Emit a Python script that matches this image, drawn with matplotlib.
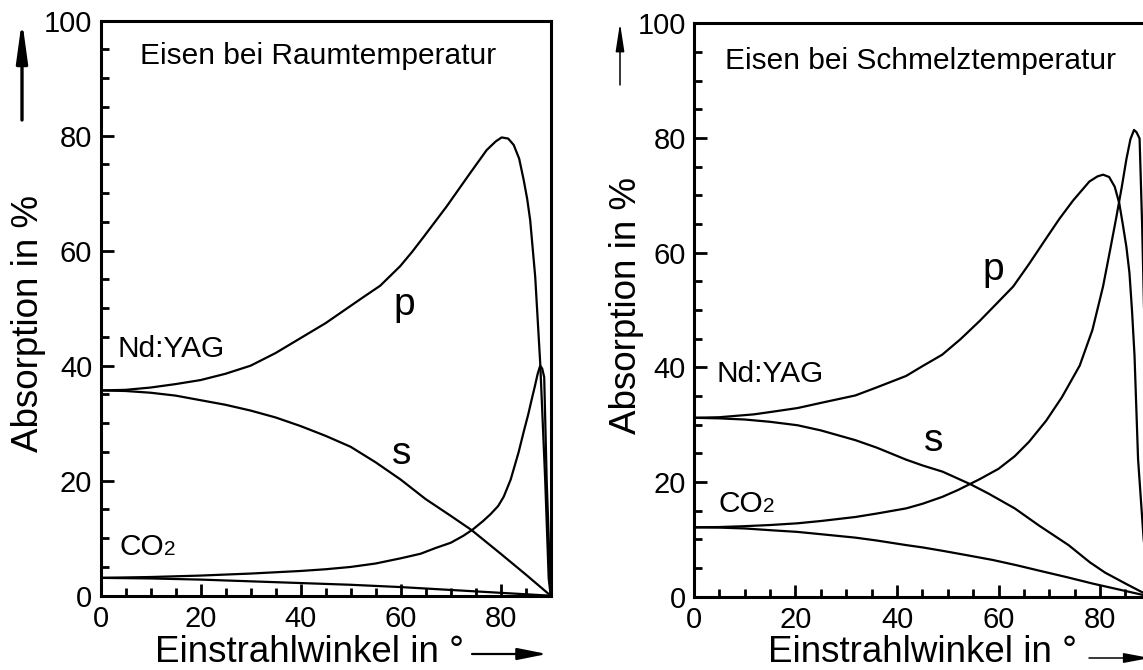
import matplotlib
matplotlib.use('Agg')
import matplotlib.pyplot as plt
from matplotlib.ticker import MultipleLocator

plt.rcParams['font.family'] = ['Liberation Sans', 'DejaVu Sans']

# Eisen bei Raumtemperatur (links)
rt_yag_p_x = [0, 5, 10, 15, 20, 25, 30, 35, 40, 45, 50, 52.5, 55.9, 59.9, 62.3, 64.6, 69.2, 73.9, 77.2,
              79, 80.2, 81.5, 82.6, 83.7, 84.6, 85.3, 85.9, 86.9, 87.9, 88.9, 89.6, 90]
rt_yag_p_y = [35.7, 35.8, 36.2, 36.8, 37.5, 38.6, 40.0, 42.2, 44.8, 47.4, 50.4, 51.9, 53.9, 57.3,
              59.8, 62.4, 67.7, 73.5, 77.5, 79.0, 79.7, 79.5, 78.4, 76.0, 72.3, 69.0, 65.3, 55.5,
              40.5, 20.1, 3.0, 0]
rt_yag_s_x = [0, 5, 10, 15, 20, 25, 30, 35, 40, 45, 50, 55, 60, 65, 70, 74.2, 80, 85, 90]
rt_yag_s_y = [35.7, 35.6, 35.3, 34.8, 34.0, 33.2, 32.2, 31.0, 29.5, 27.8, 25.9, 23.2, 20.2, 16.8,
              13.9, 11.4, 7.3, 3.7, 0]
rt_co2_p_x = [0, 10, 20, 30, 40, 45, 50, 55, 60, 64, 67, 70, 72.5, 74.4, 76.5, 78, 79.5, 80.6, 82,
              83.6, 84.6, 85.5, 86.3, 86.8, 87.4, 87.9, 88.3, 88.7, 89.2, 90]
rt_co2_p_y = [3.1, 3.25, 3.5, 3.85, 4.3, 4.6, 5.0, 5.6, 6.5, 7.3, 8.3, 9.2, 10.4, 11.5, 13.0, 14.2,
              15.6, 17.2, 20.2, 25.0, 28.5, 31.5, 34.5, 36.3, 38.6, 40.0, 39.5, 38.0, 20.0, 0]
rt_co2_s_x = [0, 10, 20, 30, 40, 50, 60, 70, 80, 90]
rt_co2_s_y = [3.1, 3.0, 2.8, 2.5, 2.2, 1.9, 1.5, 1.0, 0.5, 0]

# Eisen bei Schmelztemperatur (rechts)
mt_yag_p_x = [0, 5, 11.8, 15, 20.4, 25, 31.8, 36, 41.8, 45, 48.9, 52.5, 56.3, 59.5, 62.9, 66, 69.4,
              72, 74.7, 77.9, 79.5, 80.6, 81.8, 82.9, 83.8, 84.5, 85.2, 85.8, 86.3, 86.8, 87.5, 88.6, 90]
mt_yag_p_y = [31.2, 31.3, 31.8, 32.2, 32.9, 33.8, 35.1, 36.5, 38.5, 40.2, 42.2, 44.9, 48.1, 51.0,
              54.1, 58.0, 62.5, 65.9, 69.1, 72.4, 73.3, 73.6, 73.2, 71.5, 68.6, 64.9, 61.0, 56.5,
              50.0, 42.1, 24.0, 10.0, 0]
mt_yag_s_x = [0, 5, 10, 15, 20.4, 25, 31.8, 36, 41.8, 45, 49, 54.5, 58, 63.2, 68, 73.8, 78, 81, 85, 90]
mt_yag_s_y = [31.2, 31.1, 30.9, 30.5, 29.9, 29.0, 27.3, 26.0, 23.9, 22.9, 21.8, 19.6, 18.0, 15.4,
              12.4, 9.0, 6.0, 4.2, 2.3, 0]
mt_co2_p_x = [0, 5, 10, 15, 20.4, 25, 31.8, 36, 41.8, 45, 48.9, 52, 56.3, 60, 63.2, 66, 69.4, 72.5,
              76, 78.5, 80.6, 82, 83.2, 84.3, 85.2, 86, 86.7, 87.2, 87.8, 88.3, 89.2, 90]
mt_co2_p_y = [12.1, 12.15, 12.3, 12.5, 12.8, 13.2, 13.9, 14.5, 15.4, 16.2, 17.4, 18.6, 20.5, 22.3,
              24.5, 27.0, 30.7, 34.8, 40.3, 46.5, 54.1, 60.5, 66.1, 71.5, 76.3, 79.8, 81.4, 81.0,
              79.9, 64.8, 30.0, 0]
mt_co2_s_x = [0, 5, 10, 15, 20.4, 25, 31.8, 36, 41.8, 45, 49, 54, 58.9, 63.5, 68.7, 73.5, 78.5, 84, 90]
mt_co2_s_y = [12.1, 12.05, 11.9, 11.6, 11.3, 10.9, 10.3, 9.8, 9.0, 8.6, 8.0, 7.2, 6.4, 5.5, 4.4,
              3.4, 2.3, 1.2, 0]

x_ticks = [0, 20, 40, 60, 80]
y_ticks = [0, 20, 40, 60, 80, 100]

W, H = 1143, 670
fig = plt.figure(figsize=(W / 100, H / 100), dpi=100)


def px(x0, y0, x1, y1):
    # pixel box (top-left origin) -> figure fraction
    return [x0 / W, 1 - y1 / H, (x1 - x0) / W, (y1 - y0) / H]


def style_axes(ax):
    ax.set_xlim(0, 90)
    ax.set_ylim(0, 100)
    ax.set_xticks(x_ticks)
    ax.set_yticks(y_ticks)
    ax.xaxis.set_minor_locator(MultipleLocator(5))
    ax.yaxis.set_minor_locator(MultipleLocator(5))
    ax.tick_params(which='both', direction='in', top=False, right=False,
                   width=2, labelsize=21)
    ax.tick_params(which='major', length=9)
    ax.tick_params(which='minor', length=6)
    ax.tick_params(axis='x', pad=7)
    ax.tick_params(axis='y', pad=6)
    for sp in ax.spines.values():
        sp.set_linewidth(2.2)


def co2_label(ax, x, y):
    t = ax.text(x, y, 'CO', fontsize=21.5, va='baseline')
    ax.annotate('2', xy=(1, 0), xycoords=t, xytext=(0, 1.4),
                textcoords='offset points', fontsize=15, va='bottom', ha='left')


def draw(ax, curves):
    for xs, ys in curves:
        ax.plot(xs, ys, color='black', lw=1.6, solid_joinstyle='round')


ax1 = fig.add_axes(px(100.5, 20.7, 550.7, 595.7))
style_axes(ax1)
draw(ax1, [(rt_yag_p_x, rt_yag_p_y), (rt_yag_s_x, rt_yag_s_y),
           (rt_co2_p_x, rt_co2_p_y), (rt_co2_s_x, rt_co2_s_y)])
ax1.text(7.9, 92.5, 'Eisen bei Raumtemperatur', fontsize=21.5, va='baseline')
ax1.text(3.3, 41.5, 'Nd:YAG', fontsize=21.5, va='baseline')
co2_label(ax1, 3.7, 7.1)
ax1.text(58.5, 48.9, 'p', fontsize=28, va='baseline')
ax1.text(58.3, 22.9, 's', fontsize=28, va='baseline')

ax2 = fig.add_axes(px(694, 23.3, 694 + 90 * 5.075, 596.7))
style_axes(ax2)
draw(ax2, [(mt_yag_p_x, mt_yag_p_y), (mt_yag_s_x, mt_yag_s_y),
           (mt_co2_p_x, mt_co2_p_y), (mt_co2_s_x, mt_co2_s_y)])
ax2.text(6.1, 92.0, 'Eisen bei Schmelztemperatur', fontsize=21.5, va='baseline')
ax2.text(4.5, 37.4, 'Nd:YAG', fontsize=21.5, va='baseline')
co2_label(ax2, 4.8, 14.7)
ax2.text(56.8, 55.2, 'p', fontsize=28, va='baseline')
ax2.text(45.4, 25.4, 's', fontsize=28, va='baseline')

# axis labels
fig.text(28.5 / W, 1 - 324 / H, 'Absorption in %', fontsize=26.5, rotation=90,
         ha='center', va='center')
fig.text(626 / W, 1 - 306 / H, 'Absorption in %', fontsize=26.5, rotation=90,
         ha='center', va='center')
fig.text(155 / W, 1 - 662 / H, 'Einstrahlwinkel in °', fontsize=26.5,
         ha='left', va='baseline')
fig.text(768 / W, 1 - 662 / H, 'Einstrahlwinkel in °', fontsize=26.5,
         ha='left', va='baseline')


def arrow(x0, y0, x1, y1, lw, hl, hw):
    fig.add_artist(matplotlib.patches.FancyArrowPatch(
        (x0 / W, 1 - y0 / H), (x1 / W, 1 - y1 / H), transform=fig.transFigure,
        arrowstyle=f'-|>,head_length={hl},head_width={hw}', mutation_scale=10,
        lw=lw, color='black', shrinkA=0, shrinkB=0))


arrow(22, 120, 22, 20, 2.4, 2.4, 0.33)
arrow(620, 85, 620, 23, 1.1, 1.7, 0.26)
arrow(472, 654, 547, 654, 1.6, 1.8, 0.36)
arrow(1089, 658, 1150, 658, 1.1, 1.6, 0.3)

fig.savefig('out.png', dpi=100)
